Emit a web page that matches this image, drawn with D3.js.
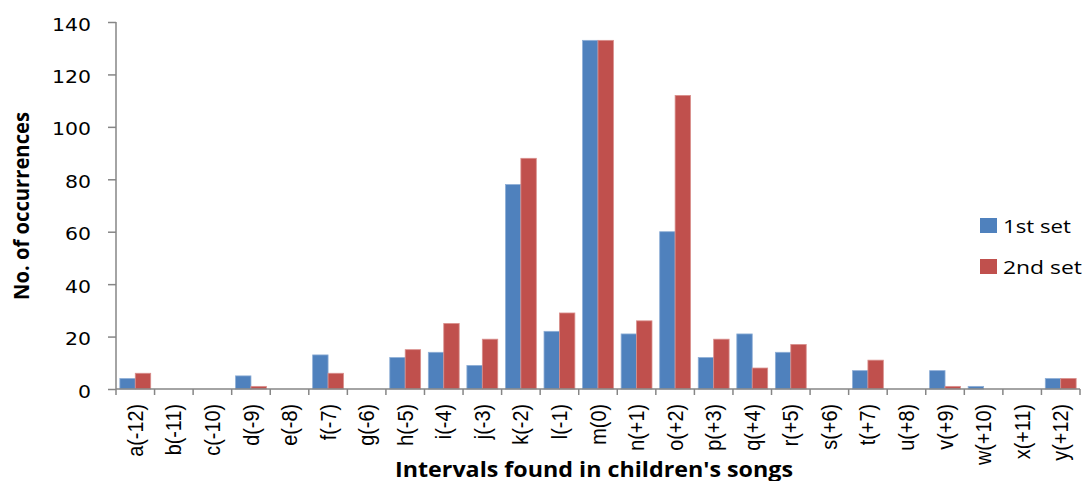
<!DOCTYPE html>
<html>
<head>
<meta charset="utf-8">
<script src="https://cdn.jsdelivr.net/npm/d3@7"></script>
<style>
  body { margin: 0; background: #fff; }
  svg { display: block; }
  .tick text { fill: #000; }
</style>
</head>
<body>
<svg id="chart" width="1085" height="481"></svg>
<script>
// interval categories
let categories = ["a(-12)", "b(-11)", "c(-10)", "d(-9)", "e(-8)", "f(-7)", "g(-6)", "h(-5)", "i(-4)",
    "j(-3)", "k(-2)", "l(-1)", "m(0)", "n(+1)", "o(+2)", "p(+3)", "q(+4)", "r(+5)", "s(+6)",
    "t(+7)", "u(+8)", "v(+9)", "w(+10)", "x(+11)", "y(+12)"];

let firstSet  = [4, 0, 0, 5, 0, 13, 0, 12, 14, 9, 78, 22, 133, 21, 60, 12, 21, 14, 0, 7, 0, 7, 1, 0, 4];
let secondSet = [6, 0, 0, 1, 0, 6, 0, 15, 25, 19, 88, 29, 133, 26, 112, 19, 8, 17, 0, 11, 0, 1, 0, 0, 4];

let seriesNames = ["1st set", "2nd set"];
let seriesColors = ["#4F81BD", "#C0504D"];
let yTicks = [0, 20, 40, 60, 80, 100, 120, 140];

let margin = {left: 116, right: 5, top: 22, bottom: 92};
let plotW = 1080 - margin.left;
let plotH = 389 - margin.top;

let svg = d3.select("#chart");
let g = svg.append("g").attr("transform", `translate(${margin.left},${margin.top})`);

let x = d3.scaleBand().domain(categories).range([0, plotW]).paddingInner(0.2).paddingOuter(0.1);
let xSub = d3.scaleBand().domain([0, 1]).range([0, x.bandwidth()]);
let y = d3.scaleLinear().domain([0, 140]).range([plotH, 0]);

// bars
let rows = categories.map((c, i) => ({cat: c, vals: [firstSet[i], secondSet[i]]}));

let groups = g.selectAll("g.cat").data(rows).enter()
    .append("g").attr("class", "cat")
    .attr("transform", d => `translate(${x(d.cat)},0)`);

groups.selectAll("rect")
    .data(d => d.vals.map((v, k) => ({v: v, k: k})).filter(e => e.v > 0))
    .enter().append("rect")
    .attr("x", d => xSub(d.k))
    .attr("y", d => y(d.v))
    .attr("width", xSub.bandwidth())
    .attr("height", d => plotH - y(d.v))
    .attr("fill", d => seriesColors[d.k])
    .attr("stroke", d => d.k == 0 ? "#8eaed6" : "#d98f8c")
    .attr("stroke-width", 0.8);

// y axis
let yAxis = g.append("g")
    .call(d3.axisLeft(y).tickValues(yTicks).tickSize(8).tickPadding(17));
yAxis.select(".domain").attr("stroke", "#868686").attr("stroke-width", 1.5)
    .attr("d", `M0,${plotH}V0`);
yAxis.selectAll(".tick line").attr("stroke", "#868686").attr("stroke-width", 1.5);
yAxis.selectAll(".tick text")
    .style("font-family", "'DejaVu Sans', sans-serif")
    .style("font-size", "18px")
    .attr("dy", "0.45em")
    .attr("textLength", d => String(d).length * 13)
    .attr("lengthAdjust", "spacingAndGlyphs");

// x axis
let xAxis = g.append("g").attr("transform", `translate(0,${plotH})`);
xAxis.append("line").attr("x1", 0).attr("x2", plotW)
    .attr("stroke", "#868686").attr("stroke-width", 1.5);

let step = x.step();
let bounds = d3.range(categories.length + 1).map(i => i * step);
xAxis.selectAll("line.tk").data(bounds).enter()
    .append("line").attr("class", "tk")
    .attr("x1", d => d).attr("x2", d => d)
    .attr("y1", 0).attr("y2", 6)
    .attr("stroke", "#868686").attr("stroke-width", 1.5);

xAxis.selectAll("text").data(categories).enter()
    .append("text")
    .attr("transform", d => `translate(${x(d) + x.bandwidth() / 2},15) rotate(-90) scale(1.1,1.2)`)
    .attr("text-anchor", "end")
    .attr("dy", "0.35em")
    .style("font-family", "'Liberation Sans', Arial, sans-serif")
    .style("font-size", "18px")
    .text(d => d);

// axis titles
svg.append("text")
    .attr("x", 594).attr("y", 477)
    .attr("text-anchor", "middle")
    .attr("textLength", 398)
    .attr("lengthAdjust", "spacingAndGlyphs")
    .style("font-family", "'Open Sans', sans-serif")
    .style("font-weight", "bold")
    .style("font-size", "21px")
    .text("Intervals found in children's songs");

svg.append("text")
    .attr("transform", "translate(29,206) rotate(-90) scale(1,1.15)")
    .attr("text-anchor", "middle")
    .attr("textLength", 188)
    .attr("lengthAdjust", "spacingAndGlyphs")
    .style("font-family", "'Open Sans', sans-serif")
    .style("font-weight", "bold")
    .style("font-size", "19px")
    .text("No. of occurrences");

// legend
let legend = svg.append("g").attr("transform", "translate(980,218)");
let items = legend.selectAll("g").data(seriesNames).enter()
    .append("g").attr("transform", (d, i) => `translate(0,${i * 41})`);
items.append("rect").attr("width", 17).attr("height", 15)
    .attr("fill", (d, i) => seriesColors[i]);
items.append("text").attr("x", 23).attr("y", 15)
    .attr("textLength", (d, i) => i == 0 ? 68 : 79)
    .attr("lengthAdjust", "spacingAndGlyphs")
    .style("font-family", "'Open Sans', sans-serif")
    .style("font-size", "19px")
    .text(d => d);
</script>
</body>
</html>
